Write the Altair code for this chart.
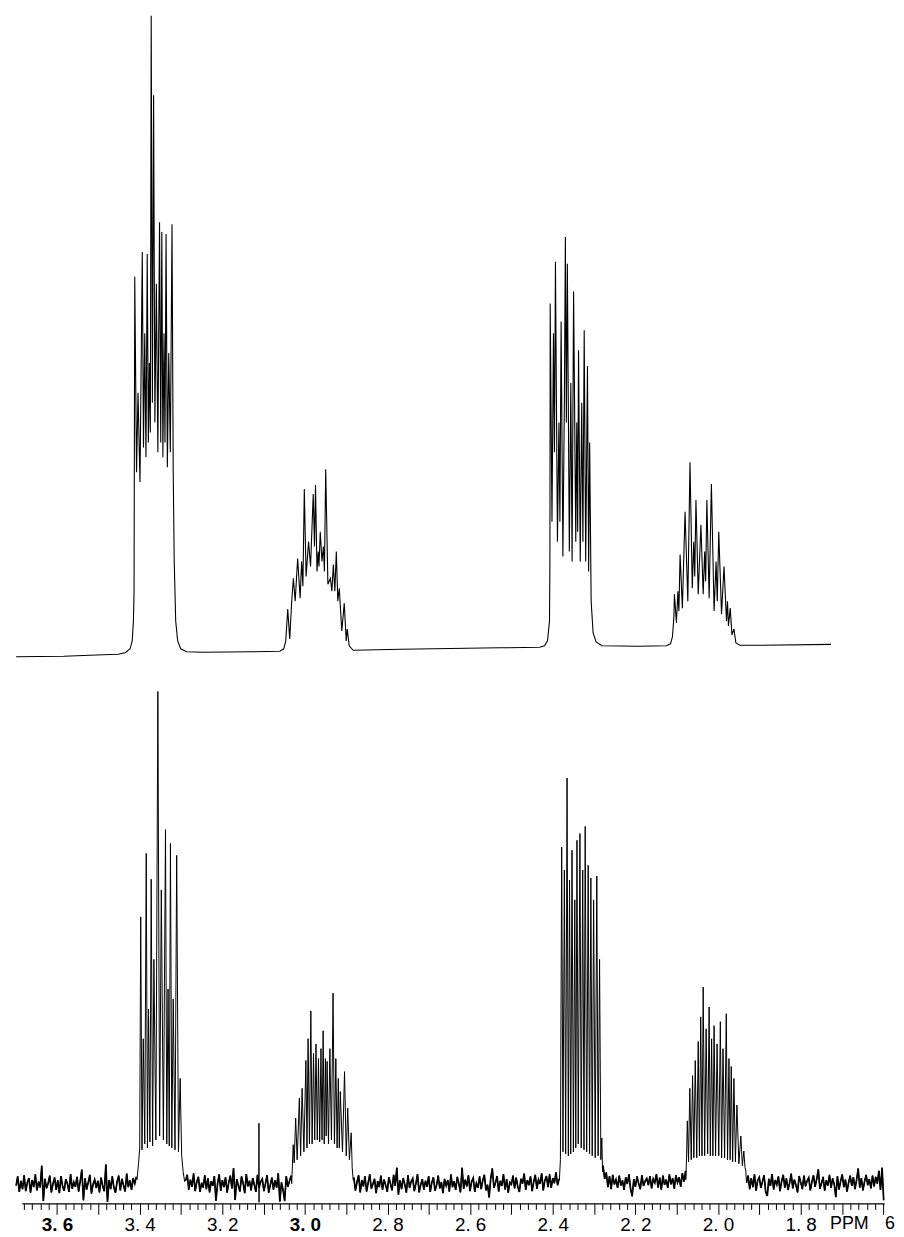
import altair as alt
import numpy as np
import pandas as pd

# ---------------- simulated spectrum (top trace): shift (ppm) / intensity ----------------
top_ppm = [3.699, 3.584, 3.488, 3.452, 3.435, 3.423, 3.418, 3.415, 3.4135,
           3.4118, 3.4075, 3.4039, 3.3991, 3.3936, 3.3907, 3.3876, 3.3847, 3.3816, 3.3789,
           3.3763, 3.3741, 3.372, 3.3691, 3.3662, 3.3631, 3.3595, 3.3559, 3.3518, 3.3489,
           3.3463, 3.3437, 3.341, 3.3386, 3.336, 3.3329, 3.3295, 3.3257, 3.3216, 3.3187,
           3.3163, 3.3127, 3.3079, 3.3007, 3.2863, 3.2479, 3.1279, 3.0607, 3.0511, 3.0463,
           3.0415, 3.0367, 3.0319, 3.0278, 3.0235, 3.0175, 3.0115, 3.0079, 3.0048, 3.0014,
           2.9971, 2.9911, 2.9863, 2.9798, 2.9767, 2.9743, 2.9707, 2.9678, 2.9659, 2.9628,
           2.9587, 2.9551, 2.9527, 2.9496, 2.9443, 2.9383, 2.9347, 2.9311, 2.9275, 2.9239,
           2.9203, 2.9167, 2.9107, 2.9047, 2.8999, 2.8975, 2.8927, 2.8831, 2.7679, 2.5279,
           2.4319, 2.4199, 2.4127, 2.4079, 2.4069,
           2.4062, 2.4019, 2.3983, 2.3959, 2.3935, 2.3887, 2.3851, 2.3827, 2.3798, 2.3755,
           2.3719, 2.3695, 2.3671, 2.3647, 2.3599, 2.3563, 2.3532, 2.3496, 2.3443, 2.3419,
           2.3397, 2.3376, 2.3335, 2.3299, 2.327, 2.3239, 2.3203, 2.316, 2.3131, 2.3107,
           2.3071, 2.3023, 2.2951, 2.2807, 2.1919, 2.1247, 2.1151, 2.1103, 2.1067,
           2.1055, 2.1007, 2.0971, 2.0947, 2.0918, 2.0863, 2.0798, 2.0731, 2.0678, 2.0623,
           2.0587, 2.0563, 2.0534, 2.0479, 2.0414, 2.0359, 2.0323, 2.0299, 2.027, 2.0215,
           2.016, 2.0095, 2.0047, 2.0018, 1.9982, 1.9915, 1.9855, 1.9795, 1.9771, 1.9747,
           1.9704, 1.9663, 1.9615, 1.9567, 1.9471, 1.9039, 1.7263]
top_int = [0.4, 0.5, 0.8, 0.9, 1.2, 2.0, 3.6, 7.6, 13.6,
           77.0, 37.6, 53.6, 35.6, 82.0, 42.6, 65.6, 40.6, 81.6, 43.6,
           59.6, 45.6, 129.6, 51.6, 113.6, 47.6, 75.6, 41.6, 88.0, 43.6,
           86.0, 40.6, 65.6, 43.6, 85.6, 38.6, 61.6, 41.6, 87.6, 37.6,
           19.6, 7.6, 3.6, 2.0, 1.4, 1.3, 1.4, 1.5, 2.0, 3.6,
           10.0, 4.0, 11.6, 16.2, 11.6, 20.2, 12.2, 19.6, 14.6, 34.2,
           16.6, 23.6, 18.6, 33.2, 22.6, 35.0, 17.6, 21.6, 18.6, 25.6,
           19.6, 22.6, 17.6, 38.2, 15.0, 16.2, 13.6, 19.0, 13.6, 21.6,
           11.6, 14.2, 5.6, 11.2, 3.6, 6.0, 2.6, 1.7, 1.9, 2.2,
           2.3, 2.6, 3.6, 7.6, 19.6,
           71.6, 27.6, 65.6, 41.6, 80.0, 23.6, 47.6, 27.6, 68.0, 20.6,
           51.6, 85.0, 47.6, 79.6, 21.6, 55.6, 19.6, 74.0, 23.6, 47.6,
           25.6, 62.2, 19.6, 51.6, 23.6, 66.2, 19.6, 59.0, 17.6, 43.6,
           11.6, 5.2, 3.4, 2.6, 2.5, 2.6, 3.0, 4.4, 8.6,
           13.0, 7.2, 13.6, 9.6, 21.0, 10.2, 29.6, 11.6, 39.6, 14.2,
           23.6, 16.6, 32.0, 13.0, 27.0, 13.0, 21.6, 15.6, 32.0, 12.2,
           35.2, 9.6, 19.6, 11.6, 25.6, 9.0, 18.6, 7.6, 11.6, 6.6,
           10.2, 4.8, 6.0, 3.2, 2.7, 2.7, 2.9]

# ---------------- observed spectrum (bottom trace): multiplets ----------------
obsA_ppm = [3.4063, 3.4027, 3.3998, 3.3974, 3.3943, 3.3912, 3.3876, 3.384, 3.3811, 3.3785,
            3.3751, 3.372, 3.3686, 3.3655, 3.3607, 3.3559, 3.3516, 3.3475, 3.3425, 3.3374,
            3.3343, 3.3312, 3.3283, 3.3254, 3.3221, 3.3187, 3.3144, 3.3103, 3.306, 3.3019,
            3.2983, 3.2947, 3.2911]
obsA_int = [6.0, 10.0, 14.0, 72.2, 13.5, 41.5, 15.0, 88.2, 14.0, 49.0,
            15.5, 81.7, 14.5, 61.5, 16.0, 129.0, 17.0, 79.0, 16.0, 94.2,
            15.0, 54.0, 14.5, 90.7, 14.0, 51.5, 13.5, 87.7, 13.0, 31.5,
            12.2, 8.0, 5.5]

obsB_ppm = [3.0319, 3.0283, 3.0259, 3.0223, 3.0187, 3.0134, 3.0103, 3.0067, 3.0024, 2.9976,
            2.9949, 2.9923, 2.9889, 2.9856, 2.9825, 2.9791, 2.9762, 2.9731, 2.97, 2.9671,
            2.9642, 2.9611, 2.9585, 2.9558, 2.9532, 2.9503, 2.9484, 2.9462, 2.9429, 2.9395,
            2.9357, 2.9318, 2.9285, 2.9251, 2.922, 2.9191, 2.9167, 2.9143, 2.909, 2.904,
            2.8999, 2.8963, 2.8922, 2.8879, 2.8855, 2.8831]
obsB_int = [5.0, 14.8, 10.2, 21.5, 11.0, 26.5, 12.0, 29.0, 13.0, 36.0,
            14.0, 41.5, 15.0, 48.5, 15.0, 37.8, 16.0, 40.2, 16.0, 36.5,
            15.5, 39.0, 16.0, 43.5, 15.0, 36.5, 17.0, 35.8, 15.0, 39.0,
            16.0, 53.0, 15.0, 36.5, 14.0, 31.5, 14.0, 28.2, 13.0, 33.2,
            12.0, 24.0, 11.0, 17.8, 9.0, 6.0]

obsC_ppm = [2.3839, 2.3815, 2.3784, 2.3753, 2.3719, 2.3688, 2.3654, 2.3623, 2.3594, 2.3565,
            2.3534, 2.3501, 2.3467, 2.3443, 2.3414, 2.3383, 2.3342, 2.3311, 2.3275, 2.3244,
            2.3215, 2.3179, 2.3143, 2.3109, 2.3078, 2.3045, 2.3011, 2.2973, 2.2934, 2.2903,
            2.2867, 2.2836, 2.2812, 2.2795]
obsC_int = [6.0, 11.0, 89.8, 13.0, 84.0, 12.5, 107.2, 12.0, 81.5, 12.5,
            89.0, 13.0, 76.5, 14.0, 91.5, 15.0, 93.2, 14.0, 84.0, 13.5,
            95.0, 13.0, 85.2, 12.5, 82.0, 12.0, 76.5, 11.5, 82.5, 12.0,
            61.5, 11.0, 16.5, 8.0]

obsD_ppm = [2.0779, 2.0762, 2.0743, 2.0714, 2.0683, 2.0649, 2.0616, 2.0585, 2.0551, 2.0515,
            2.0479, 2.045, 2.0419, 2.0388, 2.0359, 2.0323, 2.0287, 2.0251, 2.0215, 2.0186,
            2.0155, 2.0124, 2.0095, 2.0059, 2.0023, 1.9982, 1.9944, 1.9913, 1.9879, 1.9841,
            1.98, 1.9769, 1.9735, 1.9706, 1.968, 1.9646, 1.9615, 1.9579, 1.9543, 1.9495,
            1.9447, 1.9411, 1.9375, 1.9346, 1.9327]
obsD_int = [6.0, 11.5, 20.8, 10.5, 29.0, 11.0, 32.2, 11.5, 36.0, 11.5,
            40.8, 12.0, 47.0, 12.0, 54.5, 12.0, 44.0, 12.5, 49.5, 12.0,
            41.5, 12.0, 44.8, 12.0, 40.2, 12.0, 45.8, 11.5, 39.0, 11.5,
            47.8, 11.0, 36.5, 11.0, 34.5, 10.5, 31.5, 10.5, 24.8, 10.0,
            17.0, 9.5, 13.2, 9.0, 8.2]

# spike near 3.11 ppm
spike_ppm = [3.1114, 3.1112, 3.1110, 3.1108]
spike_int = [5.0, 20.2, 0.3, 5.2]

# ---------------- observed baseline noise, read as sampled values per region ----------------
noise1_range = [3.699, 3.408]
noise1 = [4.5, 6.8, 2.9, 5.7, 3.6, 7.1, 3.1, 5.2, 6.4, 2.7,
          5.9, 4.1, 7.3, 3.3, 5.5, 4.0, 9.5, 0.6, 6.2, 3.8,
          5.1, 7.0, 2.8, 4.9, 6.6, 3.4, 5.8, 2.6, 6.9, 4.3,
          3.2, 6.1, 5.0, 2.9, 7.4, 3.7, 5.4, 4.2, 6.7, 3.0,
          5.6, 8.5, 0.8, 6.3, 3.5, 5.3, 7.2, 2.5, 4.8, 6.0,
          3.9, 5.7, 2.8, 6.5, 4.4, 3.1, 9.8, 0.4, 5.9, 3.6,
          6.8, 4.0, 2.7, 5.5, 7.0, 3.3, 6.2, 4.6, 3.0, 7.5,
          4.1, 5.8, 3.4, 6.4, 5.0, 6.7]
noise2_range = [3.2887, 3.0335]
noise2 = [5.8, 7.2, 3.5, 6.0, 4.2, 7.6, 3.1, 5.4, 6.7, 2.9,
          5.2, 4.0, 7.1, 3.6, 6.3, 2.8, 5.6, 4.4, 6.9, 0.7,
          5.0, 7.3, 3.2, 5.9, 4.1, 6.6, 2.7, 5.3, 7.0, 3.8,
          8.9, 0.9, 6.1, 4.5, 3.0, 6.8, 5.1, 2.6, 7.4, 4.3,
          5.7, 3.3, 6.4, 4.7, 2.9, 7.2, 3.9, 5.5, 6.2, 3.1,
          5.0, 7.1, 2.7, 4.6, 6.5, 3.5, 5.8, 4.0, 7.6, 0.5,
          5.3, 3.4, 0.6, 6.9, 4.2, 5.6, 7.0]
noise3_range = [2.8815, 2.3845]
noise3 = [6.5, 3.2, 5.4, 7.1, 2.8, 5.9, 4.3, 6.8, 3.0, 5.2,
          7.3, 3.7, 4.9, 6.2, 2.6, 5.6, 4.1, 7.0, 3.4, 6.0,
          4.6, 2.9, 6.6, 5.0, 3.3, 7.2, 4.4, 9.0, 2.2, 5.8,
          3.6, 6.4, 4.8, 2.7, 7.1, 3.9, 5.5, 6.3, 3.1, 5.0,
          7.4, 2.8, 4.7, 6.1, 3.5, 5.7, 4.2, 6.9, 2.9, 5.3,
          6.6, 3.2, 4.6, 7.0, 3.8, 5.4, 2.6, 6.2, 4.5, 5.9,
          3.0, 7.3, 4.1, 5.6, 3.4, 6.7, 4.9, 2.8, 9.0, 3.7,
          6.0, 4.3, 7.1, 3.1, 5.5, 6.4, 2.9, 5.1, 4.0, 6.8,
          3.6, 5.8, 7.2, 3.3, 4.7, 1.5, 6.3, 8.8, 3.9, 5.2,
          6.9, 3.0, 5.7, 4.4, 7.4, 3.5, 6.1, 2.7, 5.3, 4.8,
          7.0, 3.8, 6.5, 4.2, 2.9, 6.2, 5.0, 7.5, 3.4, 5.9,
          4.6, 6.8, 3.1, 5.4, 7.2, 3.7, 6.0, 4.9, 7.6, 3.3,
          5.8, 6.9, 4.1, 7.3, 3.9, 6.4, 5.1, 7.8, 4.6, 6.2]
noise4_range = [2.2783, 2.0785]
noise4 = [9.5, 6.2, 7.8, 4.1, 6.9, 3.6, 7.2, 4.8, 6.0, 3.9,
          7.0, 4.5, 5.8, 3.4, 6.6, 4.9, 7.3, 3.7, 1.8, 6.1,
          4.2, 6.8, 5.0, 3.6, 7.1, 4.4, 5.6, 6.3, 4.6, 6.9,
          3.8, 6.2, 5.2, 7.4, 4.0, 6.5, 3.5, 7.0, 4.7, 6.0,
          3.9, 7.3, 4.8, 6.4, 3.7, 7.1, 5.3, 6.6, 4.2, 7.6,
          5.5, 8.2]
noise5_range = [1.9310, 1.5990]
noise5 = [5.2, 7.0, 3.6, 6.4, 4.1, 7.3, 3.2, 5.8, 6.6, 3.9,
          5.5, 7.1, 2.9, 1.9, 6.2, 4.4, 7.4, 3.5, 5.9, 4.7,
          6.8, 3.1, 5.6, 7.2, 4.0, 6.3, 3.4, 5.1, 7.5, 3.8,
          6.0, 4.6, 2.8, 6.9, 5.3, 3.6, 7.0, 4.3, 5.7, 6.5,
          3.3, 5.4, 7.1, 4.2, 6.1, 8.6, 3.7, 5.0, 6.7, 3.2,
          5.8, 4.5, 7.2, 3.9, 6.3, 4.8, 1.6, 6.9, 3.5, 5.6,
          7.3, 4.1, 6.0, 3.0, 5.2, 7.0, 4.4, 6.6, 3.6, 5.9,
          8.8, 4.0, 6.4, 3.3, 5.5, 7.2, 4.6, 6.1, 3.8, 7.0,
          4.3, 6.7, 5.0, 8.2, 3.4, 9.0, 0.8]

# axis tick values (ppm) every 0.02
tick_values = [round(v, 2) for v in np.arange(1.60, 3.6801, 0.02)]

# ---------------- build tables ----------------
top_df = pd.DataFrame({"ppm": top_ppm, "intensity": top_int})

parts = [
    pd.DataFrame({"ppm": obsA_ppm, "intensity": obsA_int}),
    pd.DataFrame({"ppm": obsB_ppm, "intensity": obsB_int}),
    pd.DataFrame({"ppm": obsC_ppm, "intensity": obsC_int}),
    pd.DataFrame({"ppm": obsD_ppm, "intensity": obsD_int}),
    pd.DataFrame({"ppm": spike_ppm, "intensity": spike_int}),
]
noise_parts = []
for i, (rng, vals) in enumerate([(noise1_range, noise1), (noise2_range, noise2),
                                 (noise3_range, noise3), (noise4_range, noise4),
                                 (noise5_range, noise5)]):
    noise_parts.append(pd.DataFrame({"ppm": np.linspace(rng[0], rng[1], len(vals)),
                                     "intensity": vals, "seg": i}))
noise_df = pd.concat(noise_parts, ignore_index=True)
bottom_df = pd.concat(parts + [noise_df.drop(columns="seg")], ignore_index=True)
bottom_df = bottom_df.sort_values("ppm", ascending=False)

W = 869
x_scale = alt.Scale(domain=[3.685, 1.598], nice=False, zero=False)
y_bottom = alt.Scale(domain=[0, 137], nice=False, zero=False)

major_test = "abs(datum.value*10 - round(datum.value*10)) < 0.001"
label_test = "abs(datum.value*5 - round(datum.value*5)) < 0.001 && datum.value > 1.7"

x_axis = alt.Axis(
    values=tick_values,
    labelExpr=f"({label_test}) ? replace(format(datum.value, '.1f'), '.', '. ') : ''",
    labelOverlap=False,
    labelFlush=False,
    labelBound=False,
    grid=False,
    domainColor="black",
    domainWidth=1.2,
    tickColor="black",
    tickWidth=1,
    tickSize={"condition": {"test": major_test, "value": 11}, "value": 6},
    labelFont="Liberation Sans",
    labelFontSize=19,
    labelColor="black",
    labelFontWeight={"condition": {"test": "datum.value > 3.59 || abs(datum.value - 3.0) < 0.001",
                                   "value": "bold"}, "value": "normal"},
    labelPadding=1,
)

top_chart = alt.Chart(top_df).mark_line(color="black", strokeWidth=1.1).encode(
    x=alt.X("ppm:Q", scale=x_scale, axis=None),
    y=alt.Y("intensity:Q", scale=alt.Scale(domain=[0, 130], nice=False, zero=False), axis=None),
).properties(width=W, height=650)

bottom_line = alt.Chart(bottom_df).mark_line(color="black", strokeWidth=1).encode(
    x=alt.X("ppm:Q", scale=x_scale, title=None, axis=x_axis),
    y=alt.Y("intensity:Q", scale=y_bottom, axis=None),
).properties(width=W, height=548)

noise_line = alt.Chart(noise_df).mark_line(color="black", strokeWidth=1.7).encode(
    x=alt.X("ppm:Q", scale=x_scale, title=None, axis=x_axis),
    y=alt.Y("intensity:Q", scale=y_bottom, axis=None),
    detail="seg:N",
)

ppm_text = alt.Chart(pd.DataFrame({"t": ["PPM"]})).mark_text(
    font="Liberation Sans", fontSize=18, color="black", align="center", baseline="middle"
).encode(text="t:N", x=alt.value(834), y=alt.value(569))

six_text = alt.Chart(pd.DataFrame({"t": ["6"]})).mark_text(
    font="Liberation Sans", fontSize=18, color="black", align="center", baseline="middle"
).encode(text="t:N", x=alt.value(875), y=alt.value(569))

bottom_chart = alt.layer(bottom_line, noise_line, ppm_text, six_text)

chart = alt.vconcat(top_chart, bottom_chart, spacing=0).properties(
    padding={"left": 4, "top": 0, "right": 0, "bottom": 0},
    background="white",
).configure_view(stroke=None)

chart.save("out.html", embed_options={"renderer": "svg", "actions": False})
